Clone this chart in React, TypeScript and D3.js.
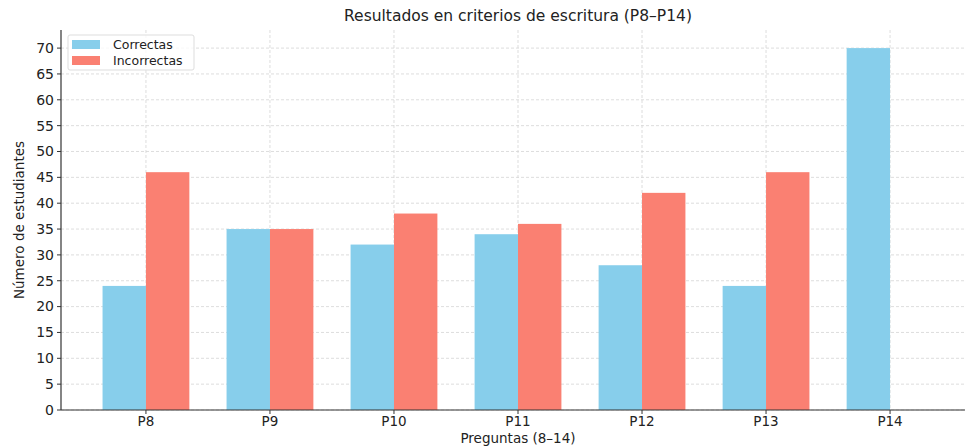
import * as d3 from "d3";

const categories = ["P8", "P9", "P10", "P11", "P12", "P13", "P14"];
const correctas = [24, 35, 32, 34, 28, 24, 70];
const incorrectas = [46, 35, 38, 36, 42, 46, 0];
const yTicks = [0, 5, 10, 15, 20, 25, 30, 35, 40, 45, 50, 55, 60, 65, 70];

const W = 965;
const H = 447;
const M = { top: 30, right: -10, bottom: 37, left: 61 };
const FONT = "DejaVu Sans, sans-serif";
const BLUE = "#87CEEB";
const RED = "#FA8072";
const BAR = 0.35;

export default function App() {
  const x = d3
    .scaleLinear()
    .domain([-0.685, categories.length - 1 + 0.685])
    .range([M.left, W - M.right]);
  const y = d3.scaleLinear().domain([0, 73.5]).range([H - M.bottom, M.top]);
  const bw = x(BAR) - x(0);
  const cx = (M.left + W - M.right) / 2;

  return (
    <svg
      width={W}
      height={H}
      style={{ position: "absolute", left: 0, top: 0, background: "#fff" }}
      fontFamily={FONT}
    >
      {/* grid */}
      {yTicks.map((t) => (
        <line
          key={"gy" + t}
          x1={M.left}
          x2={W}
          y1={y(t)}
          y2={y(t)}
          stroke="#d4d4d4"
          strokeWidth={0.8}
          strokeDasharray="3,2"
        />
      ))}
      {categories.map((c, i) => (
        <line
          key={"gx" + c}
          x1={x(i)}
          x2={x(i)}
          y1={M.top}
          y2={y(0)}
          stroke="#d4d4d4"
          strokeWidth={0.8}
          strokeDasharray="3,2"
        />
      ))}

      {/* bars */}
      {categories.map((c, i) => (
        <g key={c}>
          <rect x={x(i) - bw} y={y(correctas[i])} width={bw} height={y(0) - y(correctas[i])} fill={BLUE} />
          <rect x={x(i)} y={y(incorrectas[i])} width={bw} height={y(0) - y(incorrectas[i])} fill={RED} />
        </g>
      ))}

      {/* axes */}
      <line x1={M.left} x2={M.left} y1={M.top} y2={y(0)} stroke="#333" strokeWidth={1.2} />
      <line x1={M.left} x2={W} y1={y(0)} y2={y(0)} stroke="#333" strokeWidth={1.2} />
      {yTicks.map((t) => (
        <g key={"ty" + t}>
          <line x1={M.left - 4} x2={M.left} y1={y(t)} y2={y(t)} stroke="#333" />
          <text x={M.left - 7} y={y(t)} dy="0.35em" textAnchor="end" fontSize={14} fill="#222">
            {t}
          </text>
        </g>
      ))}
      {categories.map((c, i) => (
        <g key={"tx" + c}>
          <line x1={x(i)} x2={x(i)} y1={y(0)} y2={y(0) + 4} stroke="#333" />
          <text x={x(i)} y={y(0) + 16} textAnchor="middle" fontSize={13.5} fill="#222">
            {c}
          </text>
        </g>
      ))}

      {/* labels */}
      <text x={cx} y={21} textAnchor="middle" fontSize={15.5} fill="#222">
        Resultados en criterios de escritura (P8–P14)
      </text>
      <text x={cx} y={443} textAnchor="middle" fontSize={13.5} fill="#222">
        Preguntas (8–14)
      </text>
      <text
        transform={`translate(24,${(M.top + y(0)) / 2}) rotate(-90)`}
        textAnchor="middle"
        fontSize={13.5}
        fill="#222"
      >
        Número de estudiantes
      </text>

      {/* legend */}
      <g transform={`translate(${M.left + 7},35)`}>
        <rect width={126} height={35} fill="#fff" fillOpacity={0.8} stroke="#ddd" rx={2} />
        <rect x={4} y={5} width={28} height={9} fill={BLUE} />
        <text x={45} y={14} fontSize={12.5} fill="#222">Correctas</text>
        <rect x={4} y={21} width={28} height={9} fill={RED} />
        <text x={45} y={30} fontSize={12.5} fill="#222">Incorrectas</text>
      </g>
    </svg>
  );
}
